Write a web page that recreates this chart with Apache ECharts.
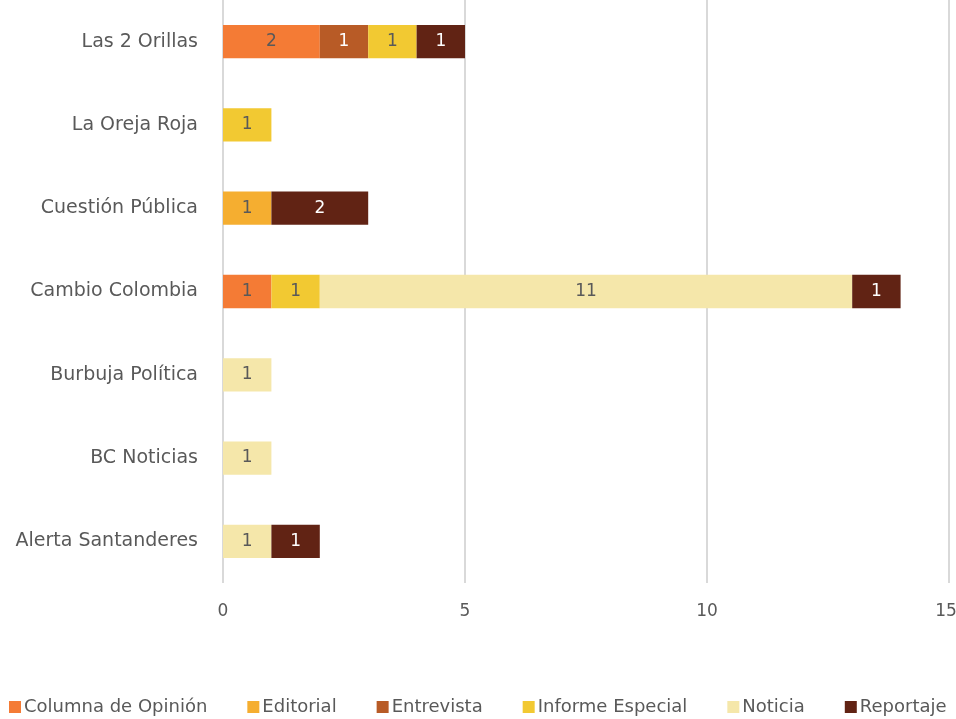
<!DOCTYPE html>
<html><head><meta charset="utf-8">
<script src="https://cdn.jsdelivr.net/npm/echarts@6/dist/echarts.min.js"></script>
<style>html,body{margin:0;padding:0;background:#fff}#c{width:956px;height:719px}</style>
</head><body><div id="c"></div>
<script>
const categories = ["Alerta Santanderes","BC Noticias","Burbuja Política","Cambio Colombia","Cuestión Pública","La Oreja Roja","Las 2 Orillas"];
const seriesNames = ["Columna de Opinión","Editorial","Entrevista","Informe Especial","Noticia","Reportaje"];
const columnaOpinion = [0,0,0,1,0,0,2];
const editorial      = [0,0,0,0,1,0,0];
const entrevista     = [0,0,0,0,0,0,1];
const informeEspecial= [0,0,0,1,0,1,1];
const noticia        = [1,1,1,11,0,0,0];
const reportaje      = [1,0,0,1,2,0,1];
const xTicks = [0,5,10,15];

const values = [columnaOpinion, editorial, entrevista, informeEspecial, noticia, reportaje];
const colors = ["#F47B35","#F5AE30","#B85B26","#F2C932","#F5E7AA","#612314"];
const labelColors = ["#595959","#595959","#ffffff","#595959","#595959","#ffffff"];
const font = "'DejaVu Sans', sans-serif";

const chart = echarts.init(document.getElementById('c'));
chart.setOption({
  animation:false,
  grid:{left:223,right:7,top:0,bottom:136,containLabel:false,outerBoundsMode:'none'},
  legend:{
    bottom:-2,left:4,width:950,itemWidth:12,itemHeight:12,itemGap:40,
    icon:'rect',
    textStyle:{color:'#595959',fontSize:18,fontFamily:font,padding:[0,0,0,-2]},
    data:seriesNames
  },
  xAxis:{
    type:'value',min:0,max:15,interval:5,
    axisLine:{show:false},axisTick:{show:false},
    splitLine:{lineStyle:{color:'#D9D9D9',width:2}},
    axisLabel:{color:'#595959',fontSize:17,fontFamily:font,margin:20,
      formatter:v=>xTicks.includes(v)?(v===15?'{r|15}':String(v)):'',
      rich:{r:{color:'#595959',fontSize:17,fontFamily:font,padding:[0,6,0,0]}}}
  },
  yAxis:{
    type:'category',data:categories,
    axisLine:{show:false},axisTick:{show:false},
    axisLabel:{color:'#595959',fontSize:19,fontFamily:font,margin:25}
  },
  series: seriesNames.map((n,i)=>({
    name:n,type:'bar',stack:'total',barWidth:'40%',
    itemStyle:{color:colors[i]},
    label:{show:true,position:'inside',color:labelColors[i],fontSize:17,fontFamily:font,
      formatter:p=>p.value?String(p.value):''},
    data:values[i].map(v=>v===0?null:v)
  }))
});
</script></body></html>
